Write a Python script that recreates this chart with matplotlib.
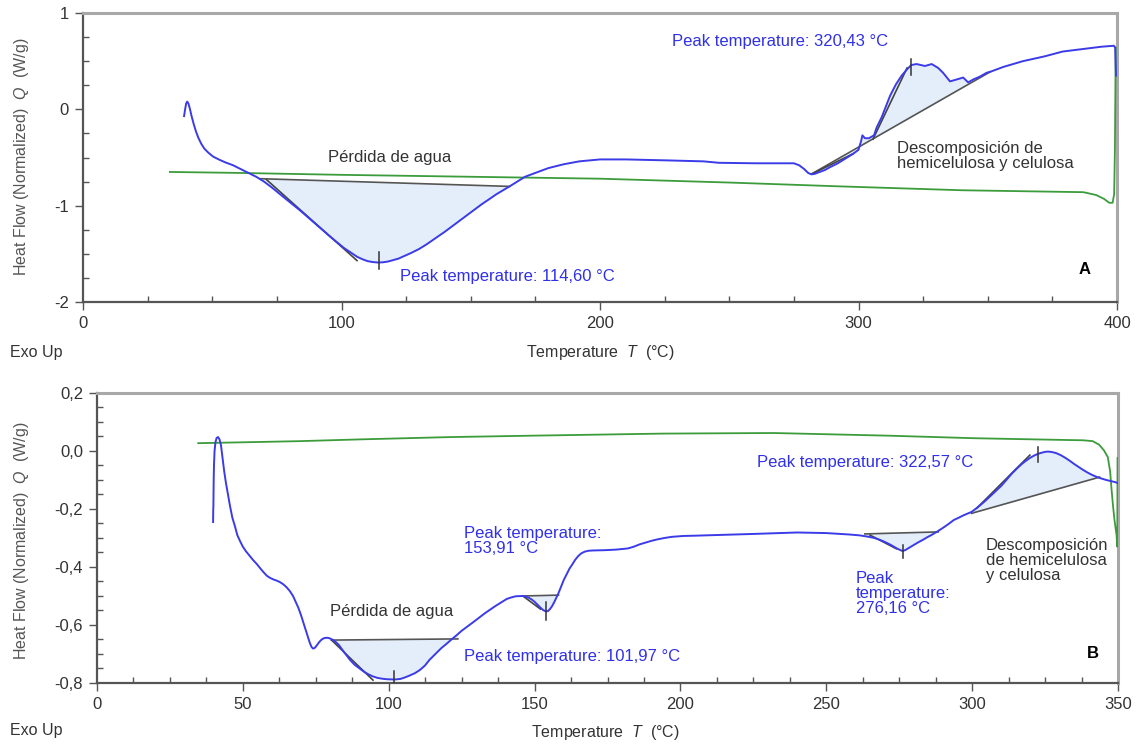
import matplotlib
matplotlib.use("Agg")
import matplotlib.pyplot as plt
import numpy as np

plt.rcParams["font.family"] = ["Liberation Sans", "DejaVu Sans"]
plt.rcParams["mathtext.fontset"] = "custom"
plt.rcParams["mathtext.rm"] = "Liberation Sans"
plt.rcParams["mathtext.it"] = "Liberation Sans:italic"

# ---------------- Sample A ----------------
a_heat_T = [39.1, 39.5, 39.9, 40.3, 40.8, 41.4, 42, 42.8, 43.7, 44.7, 45.8, 47, 48.5, 50.3,
            52.5, 55, 58, 61, 64, 67, 70, 73, 78, 84, 90, 96, 101, 106, 108, 110, 112, 114,
            116, 118, 120, 122, 124.5, 127, 130, 133, 140, 147, 154, 160, 165, 168, 171,
            174, 177, 180, 183, 186, 189, 192, 196, 200, 210, 226, 240, 246, 260, 275,
            277, 279, 280.5, 281.8, 283, 285, 287, 289, 292, 295, 298, 300, 301, 301.5,
            302.5, 304, 306, 307, 309, 312.2, 314.5, 316.7, 318.6, 320.4, 322.5, 325.7,
            328.3, 330.8, 332.7, 335.4, 338, 340.5, 342.4, 344.4, 347, 349.6, 351, 356,
            363.6, 372, 379, 388, 394, 398.8, 399.3, 399.6]
a_heat_Q = [-0.07, 0.0, 0.06, 0.08, 0.06, 0.0, -0.07, -0.15, -0.23, -0.30, -0.36, -0.41,
            -0.45, -0.49, -0.52, -0.55, -0.58, -0.62, -0.66, -0.70, -0.75, -0.81, -0.92,
            -1.05, -1.19, -1.33, -1.44, -1.53, -1.555, -1.575, -1.585, -1.59, -1.588,
            -1.58, -1.565, -1.55, -1.52, -1.49, -1.45, -1.40, -1.27, -1.13, -0.99, -0.88,
            -0.80, -0.75, -0.70, -0.67, -0.64, -0.61, -0.59, -0.57, -0.555, -0.54, -0.53,
            -0.52, -0.52, -0.53, -0.54, -0.555, -0.56, -0.56, -0.58, -0.62, -0.66, -0.675,
            -0.67, -0.65, -0.63, -0.60, -0.56, -0.51, -0.46, -0.42, -0.33, -0.27, -0.30,
            -0.30, -0.27, -0.19, -0.08, 0.14, 0.26, 0.35, 0.41, 0.46, 0.47, 0.45, 0.47,
            0.43, 0.38, 0.29, 0.31, 0.33, 0.28, 0.31, 0.34, 0.38, 0.39, 0.44, 0.50, 0.55,
            0.60, 0.63, 0.65, 0.66, 0.64, 0.35]

a_ref_T = [33.6, 60, 100, 150, 200, 250, 293, 340, 387, 392, 395, 397, 398.3, 398.9,
           399.2, 399.4, 399.5]
a_ref_Q = [-0.65, -0.66, -0.68, -0.70, -0.72, -0.76, -0.80, -0.84, -0.86, -0.89, -0.93,
           -0.97, -0.97, -0.88, -0.40, 0.30, 0.64]

# integration baselines, tangents (T1, Q1, T2, Q2) and peak markers (T, Q_top, Q_bottom)
a_baselines = [(68.5, -0.72, 165, -0.80), (281.9, -0.67, 351, 0.39)]
a_tangents = [(71, -0.73, 106, -1.57), (305.6, -0.31, 318.8, 0.43), (282, -0.67, 298, -0.46)]
a_peaks = [(114.60, -1.48, -1.66), (320.43, 0.52, 0.36)]

# ---------------- Sample B ----------------
b_heat_T = [39.8, 39.85, 39.9, 40.0, 40.1, 40.3, 40.6, 41, 41.5, 42, 42.5, 43, 43.6, 44.2,
            44.9, 45.6, 46.4, 47.3, 48.1, 49, 50, 51, 52.2, 53.5, 54.8, 56, 57.1, 58.2,
            59.4, 60.5, 61.6, 62.7, 63.9, 65, 66.1, 67.2, 68.1, 69, 69.9, 70.7, 71.5, 72.3,
            72.9, 73.5, 74, 74.5, 75, 75.5, 76.1, 76.7, 77.3, 78, 78.8, 79.5, 80.2, 81, 82,
            83, 84.8, 86.7, 88.3, 90, 91.5, 93, 94.5, 96, 97.6, 99.3, 102, 104, 105.5,
            107, 109, 110.7, 112.4, 114, 116, 118, 119.8, 121.5, 123.3, 125, 129, 132.9,
            136.5, 140.5, 142, 143.5, 145.9, 147, 148, 149, 150, 151, 152, 153, 153.9,
            154.6, 155.3, 156, 156.8, 157.5, 158.2, 159, 160, 161, 162, 163, 164, 165,
            166, 167.2, 168.5, 170, 174, 178, 182, 184, 186, 188, 190, 192, 194.5, 197,
            201, 205, 215, 225, 240, 250, 258, 261.5, 264.6, 266.5, 268, 269.5, 271,
            272.5, 274, 275.2, 276.2, 277.2, 278, 279, 280, 281.5, 283, 284.5, 286, 288,
            290, 292, 293.7, 295.4, 297, 298.4, 299.8, 301.4, 303, 304.5, 306, 308, 310,
            312, 313.7, 315.4, 317, 318.4, 319.8, 321.2, 322.5, 323.8, 325, 326, 327, 328,
            329, 330.5, 332, 333.5, 335, 336.5, 338, 339.5, 341, 342.4, 343.7, 346, 348.9,
            349.8]
b_heat_Q = [-0.245, -0.20, -0.19, -0.10, -0.05, 0.0, 0.03, 0.045, 0.048, 0.04, 0.02,
            -0.02, -0.07, -0.11, -0.15, -0.19, -0.23, -0.26, -0.29, -0.31, -0.33, -0.345,
            -0.36, -0.376, -0.39, -0.405, -0.418, -0.43, -0.438, -0.443, -0.447, -0.452,
            -0.46, -0.47, -0.483, -0.50, -0.52, -0.54, -0.565, -0.59, -0.615, -0.64,
            -0.66, -0.675, -0.681, -0.68, -0.675, -0.668, -0.66, -0.653, -0.648, -0.645,
            -0.644, -0.645, -0.648, -0.652, -0.66, -0.67, -0.695, -0.72, -0.737, -0.75,
            -0.761, -0.77, -0.777, -0.782, -0.785, -0.787, -0.788, -0.786, -0.781,
            -0.775, -0.766, -0.755, -0.74, -0.72, -0.70, -0.68, -0.665, -0.65, -0.635,
            -0.62, -0.59, -0.56, -0.535, -0.51, -0.505, -0.501, -0.50, -0.502, -0.506,
            -0.512, -0.52, -0.53, -0.54, -0.549, -0.553, -0.552, -0.545, -0.535, -0.52,
            -0.505, -0.49, -0.47, -0.445, -0.425, -0.405, -0.39, -0.374, -0.362, -0.353,
            -0.347, -0.344, -0.343, -0.342, -0.34, -0.336, -0.33, -0.322, -0.316, -0.31,
            -0.305, -0.30, -0.296, -0.293, -0.292, -0.289, -0.286, -0.281, -0.283, -0.288,
            -0.291, -0.296, -0.30, -0.305, -0.311, -0.318, -0.326, -0.335, -0.341, -0.345,
            -0.341, -0.336, -0.33, -0.324, -0.315, -0.307, -0.298, -0.29, -0.278, -0.265,
            -0.251, -0.238, -0.23, -0.222, -0.216, -0.21, -0.198, -0.185, -0.172, -0.158,
            -0.139, -0.12, -0.097, -0.077, -0.06, -0.045, -0.034, -0.024, -0.016, -0.01,
            -0.006, -0.003, -0.002, -0.003, -0.005, -0.008, -0.015, -0.024, -0.034,
            -0.045, -0.055, -0.065, -0.074, -0.082, -0.088, -0.093, -0.100, -0.107, -0.11]

b_ref_T = [34.7, 50, 69.6, 90, 121, 150, 194, 232, 270.7, 301, 332, 338, 341.3, 343.5,
           345.2, 346.5, 347.3, 347.8, 348.3, 348.8, 349.5, 349.75, 349.85]
b_ref_Q = [0.027, 0.03, 0.034, 0.04, 0.048, 0.053, 0.060, 0.062, 0.053, 0.044, 0.038,
           0.037, 0.034, 0.022, 0.002, -0.021, -0.07, -0.134, -0.19, -0.238, -0.29, -0.33,
           -0.024]

b_baselines = [(80.4, -0.652, 123.7, -0.648), (145.9, -0.50, 158.2, -0.497),
               (263.2, -0.286, 288.4, -0.279), (299.8, -0.215, 343.7, -0.09)]
b_tangents = [(80.4, -0.652, 94.6, -0.79), (146, -0.50, 152, -0.545),
              (265, -0.29, 274, -0.337), (301.6, -0.197, 319.8, -0.014)]
b_peaks = [(101.97, -0.76, -0.81), (153.91, -0.52, -0.583), (276.16, -0.324, -0.369),
           (322.57, 0.014, -0.038)]

# axis ticks
a_xticks = [0, 100, 200, 300, 400]
a_xlabels = ["0", "100", "200", "300", "400"]
a_yticks = [-2, -1, 0, 1]
a_ylabels = ["-2", "-1", "0", "1"]
b_xticks = [0, 50, 100, 150, 200, 250, 300, 350]
b_xlabels = ["0", "50", "100", "150", "200", "250", "300", "350"]
b_yticks = [-0.8, -0.6, -0.4, -0.2, 0.0, 0.2]
b_ylabels = ["-0,8", "-0,6", "-0,4", "-0,2", "0,0", "0,2"]

BLUE = "#3b3be8"
GREEN = "#3c9c3c"
TXT_BLUE = "#3030e8"
FILL = "#e4eefa"
GRAY = "#555555"

fig = plt.figure(figsize=(11.4, 7.44), dpi=100)
ax_a = fig.add_axes([83 / 1140, 1 - 302 / 744, 1034 / 1140, 289 / 744])
ax_b = fig.add_axes([97 / 1140, 1 - 683 / 744, 1021 / 1140, 290 / 744])


def style_axes(ax, xlim, ylim, xt, xl, yt, yl, xminor, yminor):
    ax.set_xlim(*xlim)
    ax.set_ylim(*ylim)
    ax.set_xticks(xt)
    ax.set_xticklabels(xl)
    ax.set_yticks(yt)
    ax.set_yticklabels(yl)
    ax.set_xticks(np.arange(xlim[0], xlim[1] + 1e-9, xminor), minor=True)
    ax.set_yticks(np.arange(ylim[0], ylim[1] + 1e-9, yminor), minor=True)
    ax.tick_params(which="major", direction="out", length=6, width=1, color="#555555",
                   labelsize=12, labelcolor="#333333", pad=4)
    ax.tick_params(which="minor", direction="in", length=4, width=1, color="#555555")
    for s in ("left", "bottom"):
        ax.spines[s].set_color("#555555")
        ax.spines[s].set_linewidth(1.6)
    for s in ("top", "right"):
        ax.spines[s].set_color("#a8a8a8")
        ax.spines[s].set_linewidth(2.2)


def annotate_peaks(ax, T, Q, baselines, tangents, peaks):
    T = np.asarray(T)
    Q = np.asarray(Q)
    for (t1, q1, t2, q2) in baselines:
        m = (T >= t1) & (T <= t2)
        tt = np.concatenate(([t1], T[m], [t2]))
        qq = np.concatenate(([np.interp(t1, T, Q)], Q[m], [np.interp(t2, T, Q)]))
        base = q1 + (q2 - q1) * (tt - t1) / (t2 - t1)
        ax.fill_between(tt, qq, base, color=FILL, lw=0, zorder=1)
        ax.plot([t1, t2], [q1, q2], color=GRAY, lw=1.2, zorder=2)
    for (t1, q1, t2, q2) in tangents:
        ax.plot([t1, t2], [q1, q2], color="#444444", lw=1.2, zorder=2)
    for (tp, q_top, q_bot) in peaks:
        ax.plot([tp, tp], [q_top, q_bot], color="#333333", lw=1.1, zorder=4)


# ---- panel A ----
style_axes(ax_a, (0, 400), (-2, 1), a_xticks, a_xlabels, a_yticks, a_ylabels, 25, 0.25)
annotate_peaks(ax_a, a_heat_T, a_heat_Q, a_baselines, a_tangents, a_peaks)
ax_a.plot(a_ref_T, a_ref_Q, color=GREEN, lw=1.3, zorder=3)
ax_a.plot(a_heat_T, a_heat_Q, color=BLUE, lw=1.4, zorder=3, solid_joinstyle="round")

ax_a.text(118.8, -0.50, "Pérdida de agua", color="#333333", fontsize=12, ha="center", va="center")
ax_a.text(122.6, -1.74, "Peak temperature: 114,60 °C", color=TXT_BLUE, fontsize=12, va="center")
ax_a.text(227.9, 0.70, "Peak temperature: 320,43 °C", color=TXT_BLUE, fontsize=12, va="center")
ax_a.text(314.9, -0.48, "Descomposición de\nhemicelulosa y celulosa", color="#333333",
          fontsize=12, va="center", linespacing=1.0)
ax_a.text(387.6, -1.66, "A", color="black", fontsize=12, fontweight="bold", ha="center",
          va="center")

# ---- panel B ----
style_axes(ax_b, (0, 350), (-0.8, 0.2), b_xticks, b_xlabels, b_yticks, b_ylabels, 12.5, 0.05)
annotate_peaks(ax_b, b_heat_T, b_heat_Q, b_baselines, b_tangents, b_peaks)
ax_b.plot(b_ref_T, b_ref_Q, color=GREEN, lw=1.3, zorder=3)
ax_b.plot(b_heat_T, b_heat_Q, color=BLUE, lw=1.4, zorder=3, solid_joinstyle="round")

ax_b.text(79.8, -0.555, "Pérdida de agua", color="#333333", fontsize=12, va="center")
ax_b.text(125.8, -0.71, "Peak temperature: 101,97 °C", color=TXT_BLUE, fontsize=12, va="center")
ax_b.text(125.8, -0.309, "Peak temperature:\n153,91 °C", color=TXT_BLUE, fontsize=12,
          va="center", linespacing=1.0)
ax_b.text(260.1, -0.49, "Peak\ntemperature:\n276,16 °C", color=TXT_BLUE, fontsize=12,
          va="center", linespacing=1.0)
ax_b.text(226.2, -0.038, "Peak temperature: 322,57 °C", color=TXT_BLUE, fontsize=12, va="center")
ax_b.text(304.7, -0.376, "Descomposición\nde hemicelulosa\ny celulosa", color="#333333",
          fontsize=12, va="center", linespacing=1.0)
ax_b.text(341.3, -0.697, "B", color="black", fontsize=12, fontweight="bold", ha="center",
          va="center")

# ---- axis titles ----
ylab = "Heat Flow (Normalized)  $Q$  (W/g)"
xlab = "Temperature  $T$  (°C)"
fig.text(22 / 1140, 1 - 157 / 744, ylab, rotation=90, ha="center", va="center",
         fontsize=11.5, color="#555555")
fig.text(22 / 1140, 1 - 541 / 744, ylab, rotation=90, ha="center", va="center",
         fontsize=11.5, color="#555555")
fig.text(600 / 1140, 1 - 353 / 744, xlab, ha="center", va="center", fontsize=11.5,
         color="#333333")
fig.text(605 / 1140, 1 - 733 / 744, xlab, ha="center", va="center", fontsize=11.5,
         color="#333333")
fig.text(10 / 1140, 1 - 352 / 744, "Exo Up", ha="left", va="center", fontsize=11.5,
         color="#333333")
fig.text(10 / 1140, 1 - 731 / 744, "Exo Up", ha="left", va="center", fontsize=11.5,
         color="#333333")

fig.savefig("out.png", dpi=100, facecolor="white")
